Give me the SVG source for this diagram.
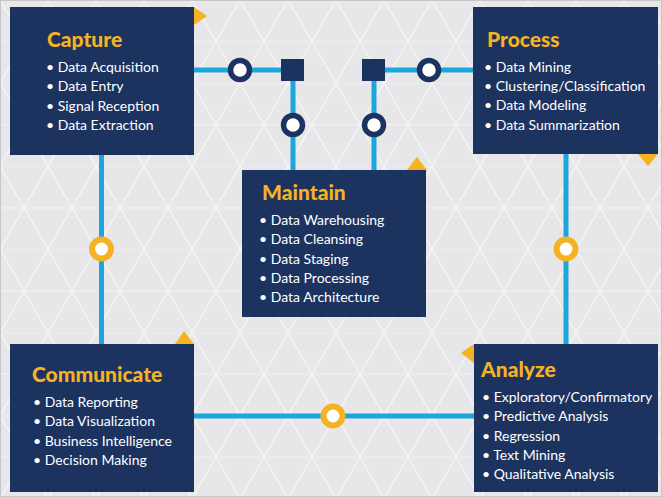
<svg xmlns="http://www.w3.org/2000/svg" width="662" height="497" viewBox="0 0 662 497">
<defs>
<style>
.box{fill:#1c335f}
.tri{fill:#f5b223}
.title{font-family:Lato,"Open Sans","Liberation Sans",sans-serif;font-weight:900;font-size:21px;fill:#f5b223}
.item{font-family:Lato,"Open Sans","Liberation Sans",sans-serif;font-size:14px;fill:#ffffff}
.wire{stroke:#1ba7dd;stroke-width:5;fill:none}
.ringN{fill:#ffffff;stroke:#1c335f;stroke-width:5.5}
.ringO{fill:#ffffff;stroke:#f5b223;stroke-width:6}
.sq{fill:#1c335f}
</style>
<pattern id="bg" patternUnits="userSpaceOnUse" width="48" height="83.14">
<g stroke="#ffffff" stroke-width="1" opacity="0.6" fill="none">
<line x1="-10" y1="0" x2="58" y2="0"/>
<line x1="-10" y1="41.57" x2="58" y2="41.57"/>
<line x1="0" y1="0" x2="48" y2="83.14"/>
<line x1="-24" y1="-41.57" x2="24" y2="41.57"/>
<line x1="24" y1="41.57" x2="72" y2="124.71"/>
<line x1="48" y1="0" x2="0" y2="83.14"/>
<line x1="72" y1="-41.57" x2="24" y2="41.57"/>
<line x1="24" y1="41.57" x2="-24" y2="124.71"/>
</g>
</pattern>
</defs>
<rect x="0" y="0" width="662" height="497" fill="#e7e7e9"/>
<rect x="0" y="0" width="662" height="497" fill="url(#bg)"/>
<rect x="0.5" y="0.5" width="661" height="496" fill="none" stroke="#c6c6c8" stroke-width="1"/>

<g id="connectors">
<line class="wire" x1="194" y1="70" x2="290" y2="70"/>
<line class="wire" x1="293" y1="70" x2="293" y2="170"/>
<line class="wire" x1="374" y1="70" x2="473" y2="70"/>
<line class="wire" x1="374" y1="70" x2="374" y2="170"/>
<line class="wire" x1="101.5" y1="155" x2="101.5" y2="344"/>
<line class="wire" x1="566" y1="154" x2="566" y2="344"/>
<line class="wire" x1="194" y1="416" x2="474" y2="416"/>
<rect class="sq" x="281" y="59" width="23" height="22"/>
<rect class="sq" x="362" y="59" width="23" height="22"/>
<circle class="ringN" cx="240" cy="70" r="9.5"/>
<circle class="ringN" cx="293" cy="125" r="9.5"/>
<circle class="ringN" cx="374" cy="125" r="9.5"/>
<circle class="ringN" cx="429" cy="70" r="9.5"/>
<circle class="ringO" cx="101.5" cy="249" r="9.5"/>
<circle class="ringO" cx="566" cy="249" r="9.5"/>
<circle class="ringO" cx="333" cy="416" r="9.5"/>
</g>

<g id="capture">
<rect class="box" x="10" y="7" width="184" height="148"/>
<polygon class="tri" points="194,7 207,16 194,25"/>
<text class="title" x="47" y="47">Capture</text>
<text class="item" x="46" y="72">• Data Acquisition</text>
<text class="item" x="46" y="91">• Data Entry</text>
<text class="item" x="46" y="111">• Signal Reception</text>
<text class="item" x="46" y="130">• Data Extraction</text>
</g>

<g id="process">
<rect class="box" x="473" y="7" width="185" height="147"/>
<polygon class="tri" points="638,154 658,154 648,166"/>
<text class="title" x="487" y="47">Process</text>
<text class="item" x="484" y="72">• Data Mining</text>
<text class="item" x="484" y="91">• Clustering/Classification</text>
<text class="item" x="484" y="110">• Data Modeling</text>
<text class="item" x="484" y="130">• Data Summarization</text>
</g>

<g id="maintain">
<rect class="box" x="242" y="170" width="184" height="147"/>
<polygon class="tri" points="407,170 417,157 427,170"/>
<text class="title" x="262" y="200">Maintain</text>
<text class="item" x="259" y="225">• Data Warehousing</text>
<text class="item" x="259" y="244">• Data Cleansing</text>
<text class="item" x="259" y="264">• Data Staging</text>
<text class="item" x="259" y="283">• Data Processing</text>
<text class="item" x="259" y="302">• Data Architecture</text>
</g>

<g id="communicate">
<rect class="box" x="10" y="344" width="184" height="148"/>
<polygon class="tri" points="175,344 184,331 194,344"/>
<text class="title" x="32" y="382">Communicate</text>
<text class="item" x="33" y="407">• Data Reporting</text>
<text class="item" x="33" y="426">• Data Visualization</text>
<text class="item" x="33" y="446">• Business Intelligence</text>
<text class="item" x="33" y="465">• Decision Making</text>
</g>

<g id="analyze">
<rect class="box" x="474" y="344" width="184" height="148"/>
<polygon class="tri" points="474,344 461,353 474,363"/>
<text class="title" x="481" y="377">Analyze</text>
<text class="item" x="482" y="402">• Exploratory/Confirmatory</text>
<text class="item" x="482" y="421">• Predictive Analysis</text>
<text class="item" x="482" y="441">• Regression</text>
<text class="item" x="482" y="460">• Text Mining</text>
<text class="item" x="482" y="479">• Qualitative Analysis</text>
</g>
</svg>
